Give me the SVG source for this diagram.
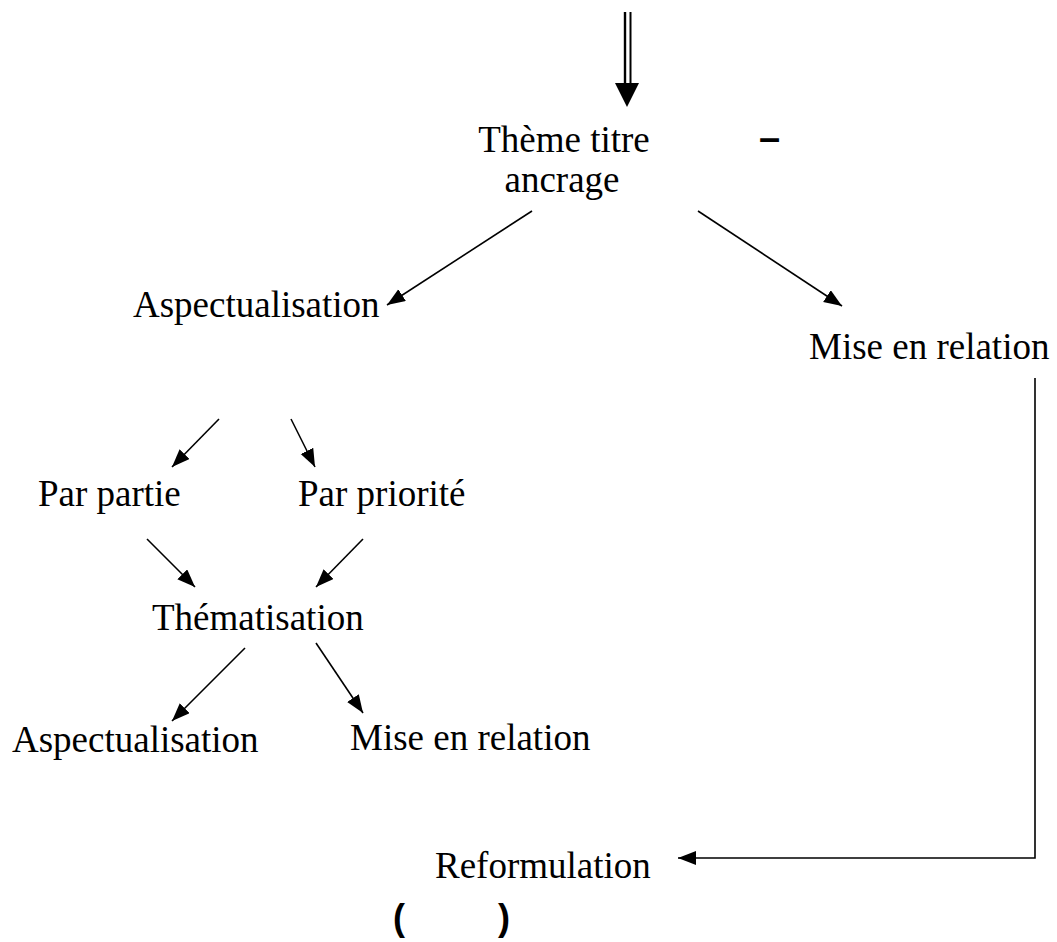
<svg xmlns="http://www.w3.org/2000/svg" width="1057" height="942" viewBox="0 0 1057 942">
  <style>
    .lbl { font-family: "Liberation Serif", "Times New Roman", serif; font-size: 37px; fill: #000; }
    .mark { font-family: "Liberation Sans", Arial, sans-serif; font-weight: bold; fill: #000; }
    .edge { stroke: #000; stroke-width: 1.6; fill: none; }
  </style>
  <defs>
    <marker id="head" markerUnits="userSpaceOnUse" markerWidth="19" markerHeight="15" refX="18" refY="7" orient="auto">
      <path d="M0,0 L18,7 L0,14 z" fill="#000"/>
    </marker>
  </defs>
  <rect width="1057" height="942" fill="#fff"/>

  <g id="connectors">
    <!-- double-shafted entry arrow -->
    <g id="entry-arrow">
      <line x1="625" y1="12" x2="625" y2="84" stroke="#000" stroke-width="2.4"/>
      <line x1="630.5" y1="12" x2="630.5" y2="84" stroke="#000" stroke-width="2"/>
      <polygon points="615,83 639,83 627,107" fill="#000"/>
    </g>
    <line class="edge" x1="532" y1="211" x2="387" y2="305" marker-end="url(#head)"/>
    <line class="edge" x1="698" y1="211" x2="842" y2="306" marker-end="url(#head)"/>
    <line class="edge" x1="219" y1="419" x2="172" y2="467" marker-end="url(#head)"/>
    <line class="edge" x1="291" y1="419" x2="315" y2="467" marker-end="url(#head)"/>
    <line class="edge" x1="147" y1="539" x2="195" y2="587" marker-end="url(#head)"/>
    <line class="edge" x1="363" y1="539" x2="316" y2="587" marker-end="url(#head)"/>
    <line class="edge" x1="245" y1="648" x2="172" y2="721" marker-end="url(#head)"/>
    <line class="edge" x1="316" y1="643" x2="363" y2="713" marker-end="url(#head)"/>
    <polyline class="edge" points="1035,378 1035,858 678,858" marker-end="url(#head)"/>
  </g>

  <g id="node-theme">
    <text class="lbl" x="564" y="152" text-anchor="middle">Thème titre</text>
    <text class="lbl" x="562" y="192" text-anchor="middle">ancrage</text>
  </g>
  <g id="node-dash">
    <text class="mark" x="759" y="151" font-size="38">–</text>
  </g>
  <g id="node-aspect-1">
    <text class="lbl" x="133" y="317">Aspectualisation</text>
  </g>
  <g id="node-relation-1">
    <text class="lbl" x="809" y="359">Mise en relation</text>
  </g>
  <g id="node-partie">
    <text class="lbl" x="38" y="506">Par partie</text>
  </g>
  <g id="node-priorite">
    <text class="lbl" x="298" y="506">Par priorité</text>
  </g>
  <g id="node-thematisation">
    <text class="lbl" x="152" y="630">Thématisation</text>
  </g>
  <g id="node-aspect-2">
    <text class="lbl" x="12" y="752">Aspectualisation</text>
  </g>
  <g id="node-relation-2">
    <text class="lbl" x="350" y="750">Mise en relation</text>
  </g>
  <g id="node-reformulation">
    <text class="lbl" x="435" y="878">Reformulation</text>
  </g>
  <g id="node-parens">
    <text class="mark" x="393" y="930" font-size="36">(</text>
    <text class="mark" x="498" y="930" font-size="36">)</text>
  </g>
</svg>
